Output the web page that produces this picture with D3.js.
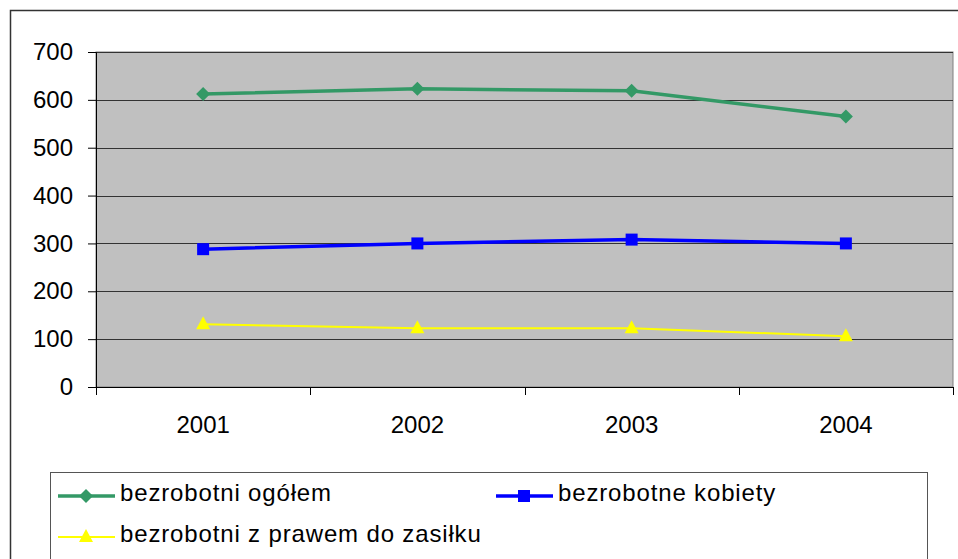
<!DOCTYPE html>
<html>
<head>
<meta charset="utf-8">
<script src="https://cdn.jsdelivr.net/npm/d3@7"></script>
<style>
body { margin: 0; background: #fff; }
svg { display: block; font-family: "Liberation Sans", Arial, sans-serif; }
</style>
</head>
<body>
<script>
// dane z wykresu
var years = ["2001", "2002", "2003", "2004"];
var ogolem = [612, 623, 619, 565];
var kobiety = [288, 300, 308, 300];
var zasilek = [131, 123, 123, 106];
var yTicks = [0, 100, 200, 300, 400, 500, 600, 700];
var names = ["bezrobotni ogółem", "bezrobotne kobiety", "bezrobotni z prawem do zasiłku"];

var W = 958, H = 559;
const margin = { left: 96, right: 5, top: 52, bottom: 172 };
var width = W - margin.left - margin.right;
var height = H - margin.top - margin.bottom;

var svg = d3.select("body").append("svg")
    .attr("width", W)
    .attr("height", H);

// ramka wykresu
svg.append("rect")
    .attr("x", 10.5).attr("y", 10.5)
    .attr("width", W).attr("height", H)
    .attr("fill", "#fff")
    .attr("stroke", "#333")
    .attr("stroke-width", 1.5);

var g = svg.append("g")
    .attr("transform", "translate(" + margin.left + "," + margin.top + ")");

var x = d3.scaleBand().domain(years).range([0, width]);
var y = d3.scaleLinear().domain([0, 700]).range([height, 0]);

g.append("rect")
    .attr("width", width).attr("height", height)
    .attr("fill", "#c0c0c0")
    .attr("stroke", "#808080");

// linie siatki
g.selectAll(".grid").data(yTicks.slice(1))
    .enter().append("line")
    .attr("x1", 0).attr("x2", width)
    .attr("y1", d => Math.round(y(d)) + 0.5)
    .attr("y2", d => Math.round(y(d)) + 0.5)
    .attr("stroke", "#333");

var yAxis = d3.axisLeft(y).tickValues(yTicks).tickSize(8).tickPadding(15);
var ya = g.append("g").call(yAxis);
ya.select(".domain").attr("stroke", "#000");
ya.selectAll("text").attr("font-size", 24).attr("fill", "#000");

var xAxis = d3.axisBottom(x).tickSize(0).tickPadding(29);
var xa = g.append("g").attr("transform", "translate(0," + height + ")").call(xAxis);
xa.select(".domain").remove();
xa.selectAll("text").attr("font-size", 24).attr("fill", "#000");
xa.append("line").attr("x1", 0).attr("x2", width).attr("y1", 0.5).attr("y2", 0.5).attr("stroke", "#000");
xa.selectAll(".sep").data(d3.range(years.length + 1))
    .enter().append("line")
    .attr("x1", i => Math.round(i * x.step()) + 0.5)
    .attr("x2", i => Math.round(i * x.step()) + 0.5)
    .attr("y1", 0).attr("y2", 8)
    .attr("stroke", "#000");

var cx = d => x(d) + x.bandwidth() / 2;

var series = [
    { name: names[0], values: ogolem, color: "#339966", width: 3.5, marker: "diamond" },
    { name: names[1], values: kobiety, color: "#0000ff", width: 3.5, marker: "square" },
    { name: names[2], values: zasilek, color: "#ffff00", width: 2, marker: "triangle" }
];

function drawMarker(sel, type, color) {
    if (type == "diamond") {
        sel.append("path").attr("d", "M0,-7L7,0L0,7L-7,0Z").attr("fill", color);
    } else if (type == "square") {
        sel.append("rect").attr("x", -6).attr("y", -6).attr("width", 12).attr("height", 12).attr("fill", color);
    } else {
        sel.append("path").attr("d", "M0,-8L7,5L-7,5Z").attr("fill", color);
    }
}

var line = d3.line().x((d, i) => cx(years[i])).y(d => y(d));

series.forEach(s => {
    g.append("path")
        .attr("d", line(s.values))
        .attr("fill", "none")
        .attr("stroke", s.color)
        .attr("stroke-width", s.width);
    s.values.forEach((v, i) => {
        var m = g.append("g").attr("transform", "translate(" + cx(years[i]) + "," + y(v) + ")");
        drawMarker(m, s.marker, s.color);
    });
});

// legenda
var leg = svg.append("g");
leg.append("rect")
    .attr("x", 50.5).attr("y", 472.5)
    .attr("width", 877).attr("height", 120)
    .attr("fill", "#fff")
    .attr("stroke", "#555");

var legPos = [[58, 496], [496, 496], [58, 537]];
series.forEach((s, i) => {
    var p = legPos[i];
    var e = leg.append("g").attr("transform", "translate(" + p[0] + "," + p[1] + ")");
    e.append("line").attr("x1", 0).attr("x2", 57).attr("y1", 0).attr("y2", 0)
        .attr("stroke", s.color).attr("stroke-width", s.width);
    drawMarker(e.append("g").attr("transform", "translate(28,0)"), s.marker, s.color);
    e.append("text").attr("x", 62).attr("y", 5)
        .attr("font-size", 24).attr("letter-spacing", 0.85)
        .attr("fill", "#000").text(s.name);
});
</script>
</body>
</html>
